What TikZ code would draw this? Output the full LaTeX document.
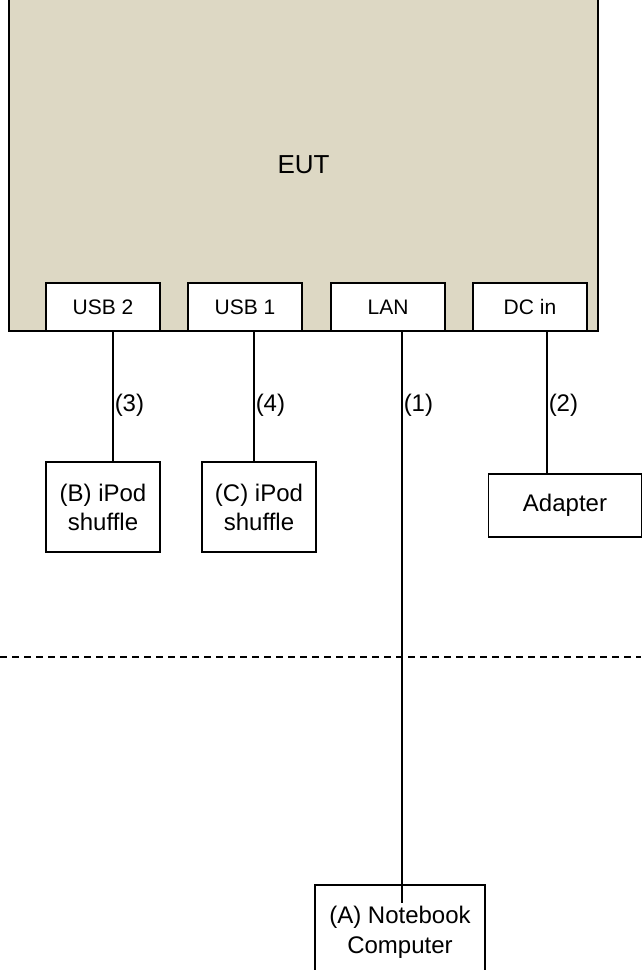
\documentclass[tikz,border=0pt]{standalone}
\usepackage{fontspec}
\setmainfont{Liberation Sans}
\definecolor{eutfill}{RGB}{221,216,196}
\begin{document}
\begin{tikzpicture}[x=1pt,y=-1pt,
  box/.style={draw=black,line width=1.5pt,fill=white,rectangle,inner sep=0pt,align=center},
  port/.style={box,minimum width=114pt,minimum height=48pt,font=\fontsize{21}{25}\selectfont},
  dev/.style={box,minimum width=114pt,minimum height=90pt,font=\fontsize{24}{29}\selectfont},
  wire/.style={draw=black,line width=1.5pt},
  lbl/.style={anchor=west,inner sep=0pt,xshift=1pt,font=\fontsize{24}{28}\selectfont}]
\useasboundingbox (0,0) rectangle (641,970);
\node[box,fill=eutfill,minimum width=589pt,minimum height=341pt] (eut) at (303.5,160.5) {};
\node[font=\fontsize{26}{30}\selectfont] (euttext) at (303.5,165) {EUT};
\node[port] (usb2) at (103,307) {USB 2};
\node[port] (usb1) at (245,307) {USB 1};
\node[port] (lan) at (388,307) {LAN};
\node[port] (dcin) at (530,307) {DC in};
\node[dev] (ipodB) at (103,507) {(B) iPod\\shuffle};
\node[dev] (ipodC) at (259,507) {(C) iPod\\shuffle};
\node[box,minimum width=153pt,minimum height=63pt,font=\fontsize{24}{28}\selectfont] (adapter) at (565,505.5) {Adapter};
\node[box,minimum width=170pt,minimum height=95pt,font=\fontsize{24}{30}\selectfont] (nb) at (400,932.5) {(A) Notebook\\Computer};
\coordinate (nbend) at (402,903);
\draw[wire] ([xshift=10pt]usb2.south) -- ([xshift=10pt]ipodB.north) node[lbl,pos=0.565] {(3)};
\draw[wire] ([xshift=9pt]usb1.south) -- ([xshift=-5pt]ipodC.north) node[lbl,pos=0.565] {(4)};
\draw[wire] ([xshift=14pt]lan.south) -- (nbend) node[lbl,pos=0.129] {(1)};
\draw[wire] ([xshift=17pt]dcin.south) -- ([xshift=-18pt]adapter.north) node[lbl,pos=0.517] {(2)};
\coordinate (dl) at (0,657);
\coordinate (dr) at (641,657);
\draw[line width=1.5pt,dash pattern=on 7pt off 5pt] (dl) -- (dr);
\end{tikzpicture}
\end{document}
